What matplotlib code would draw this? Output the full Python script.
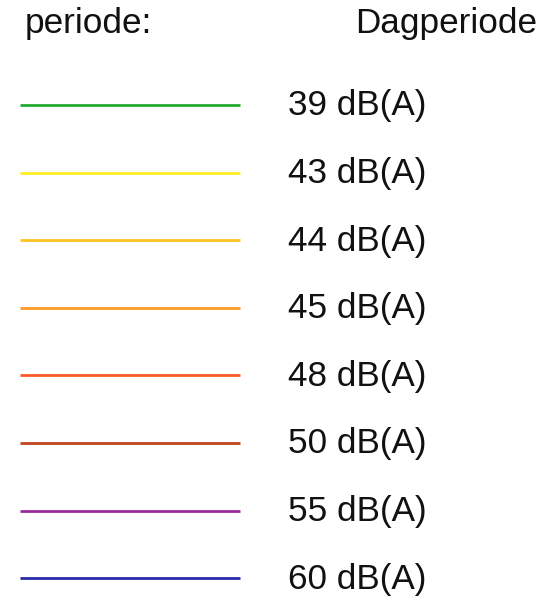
import matplotlib
matplotlib.use("Agg")
import matplotlib.pyplot as plt

header_left = "periode:"
header_right = "Dagperiode"
levels = ["39 dB(A)", "43 dB(A)", "44 dB(A)", "45 dB(A)", "48 dB(A)", "50 dB(A)", "55 dB(A)", "60 dB(A)"]
colors = ["#22aa33", "#ffee22", "#ffc222", "#ff9a22", "#ff5a2a", "#c0441e", "#9a2a9a", "#2a2aaa"]

W, H = 552, 602
fig = plt.figure(figsize=(W / 100, H / 100), dpi=100)
ax = fig.add_axes([0, 0, 1, 1])
ax.set_xlim(0, W)
ax.set_ylim(H, 0)
ax.axis("off")

plt.rcParams['font.family'] = ['Liberation Sans', 'DejaVu Sans']

fs = 25.3
ax.text(25, 24, header_left, fontsize=fs, va="center", ha="left", color="#111111")
ax.text(537, 24, header_right, fontsize=fs, va="center", ha="right", color="#111111")

y0, dy = 105, 67.6
for i, (lab, c) in enumerate(zip(levels, colors)):
    y = y0 + i * dy
    ax.plot([20, 240], [y, y], color=c, lw=2.0, solid_capstyle="butt")
    ax.text(288, y + 1, lab, fontsize=fs, va="center", ha="left", color="#111111")

fig.savefig("out.png", dpi=100, facecolor="white")
